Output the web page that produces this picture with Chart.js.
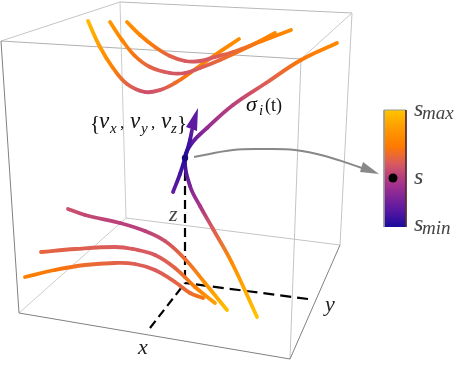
<!DOCTYPE html>
<html>
<head>
<meta charset="utf-8">
<style>html,body{margin:0;padding:0;background:#fff}canvas{display:block}</style>
<script src="https://cdn.jsdelivr.net/npm/chart.js@4"></script>
</head>
<body>
<canvas id="c" width="466" height="372"></canvas>
<script>
// Curves: x, y in picture units, s = colour parameter 0..1
const top1X = [88,100,113,127,145,160,175,190,215,239];
const top1Y = [21,47,68,84,92,90,83,73,55,39];
const top1S = [.97,.84,.72,.58,.5,.53,.62,.7,.74,.78];
const top2X = [110,122,135,150,170,185,200,220,250,275];
const top2Y = [22,40,56,67,73,73,68,60,46,33];
const top2S = [.82,.74,.66,.58,.53,.52,.55,.6,.7,.76];
const top3X = [127,140,155,170,185,200,215,233,262,291];
const top3Y = [22,35,47,56,61,61,57,52,41,30];
const top3S = [.8,.74,.66,.58,.54,.53,.55,.6,.7,.76];
const mainX = [337,301,266,233,207,192,185,190,200,213,232,257];
const mainY = [43,60,83,105,128,143,158,186,206,229,263,317];
const mainS = [.76,.68,.56,.44,.32,.15,.02,.25,.38,.55,.78,1];
const low1X = [68,85,120,145,165,185,205,227];
const low1Y = [209,215,223,231,241,259,283,310];
const low1S = [.5,.47,.44,.44,.5,.62,.8,.98];
const low2X = [41,75,115,133,155,175,195,215];
const low2Y = [252,249,247,249,255,268,287,303];
const low2S = [.59,.57,.55,.54,.54,.58,.72,.86];
const low3X = [25,55,85,115,135,155,175,190,203];
const low3Y = [277,270,265,263,264,270,282,293,298];
const low3S = [.72,.68,.62,.58,.56,.55,.58,.62,.66];
const velX = [173,180,185,190,192];
const velY = [192,174,158,140,130];
const velS = [.17,.1,.02,.1,.18];
const velHeadX = [198,186,197,198];
const velHeadY = [108,127,131,108];
// Bounding box edges: [x0,y0,x1,y1,tone]
const boxEdges = [
  [1,41,120,2,'#c4c4c4'],[120,2,352,13,'#b8b8b8'],[1,41,301,59,'#b0b0b0'],[301,59,352,13,'#c8c8c8'],
  [19,313,126,218,'#cccccc'],[126,218,340,245,'#c4c4c4'],
  [126,218,120,2,'#cccccc'],[301,59,290,359,'#c4c4c4'],[352,13,340,245,'#c4c4c4'],
  [1,41,19,313,'#808080'],[19,313,290,359,'#808080'],[290,359,340,245,'#808080']
];
const barFrame = [
  [384,110,406,110,'#999999'],[384,110,384,227,'#999999'],[406,110,406,227,'#5a2a30']
];
const axisZX = [185,185], axisZY = [158,283];
const axisXX = [150,185], axisXY = [328,283];
const axisYX = [308,185], axisYY = [299,283];
const pointerX = [194,233,264,295,325,362];
const pointerY = [157,150,149,150,156,168];
const pointerHeadX = [379,363,360,379];
const pointerHeadY = [174,162,172,174];
const barX = [395,395], barY = [110,227];
const barDotX = [393], barDotY = [178];
const colorS = [0,.15,.35,.42,.54,.69,.85,1];
const colorHex = ['#1a0a9c','#5a18a2','#a0308f','#b43c80','#d85a60','#ff7a00','#ff9c00','#ffc400'];
const labelText = ['{','v','x',',','v','y',',','v','z','}','σ','i','(t)','z','x','y','s','max','s','s','min'];
const labelX = [90,99,110,120,130,141,151,161,171,177,246,259,265,169,138,325,414,422,414,414,422];
const labelY = [130,128,133,128,128,133,128,128,133,130,111,115,111,221,354,311,116,119,184,231,234];
const labelSize = [21,23,15,17,23,15,17,23,15,21,22,15,18,22,22,22,24,19,24,24,19];
const labelFace = ['n','i','i','n','i','i','n','i','i','n','i','i','n','i','i','i','i','i','i','i','i'];
const labelTone = ['#111','#111','#111','#111','#111','#111','#111','#111','#111','#111','#111','#111','#111','#444','#222','#222','#444','#444','#444','#444','#444'];

const pts = (xs, ys) => xs.map((x, i) => ({x, y: ys[i]}));
const hexRgb = h => [1,3,5].map(i => parseInt(h.slice(i,i+2),16));
function cmap(s){
  s = Math.max(0, Math.min(1, s));
  let i = 0;
  while (i < colorS.length - 2 && s > colorS[i+1]) i++;
  const t = (s - colorS[i]) / (colorS[i+1] - colorS[i]);
  const a = hexRgb(colorHex[i]), b = hexRgb(colorHex[i+1]);
  return 'rgb(' + a.map((v,k) => Math.round(v + (b[k]-v)*t)).join(',') + ')';
}
function curve(xs, ys, ss, width){
  return {
    data: pts(xs, ys), showLine: true, pointRadius: 0, tension: 0.4,
    borderWidth: width, borderCapStyle: 'round', borderJoinStyle: 'round',
    borderColor: cmap(ss[0]),
    segment: {
      borderColor(c){
        const g = c.chart.ctx.createLinearGradient(c.p0.x, c.p0.y, c.p1.x, c.p1.y);
        g.addColorStop(0, cmap(ss[c.p0DataIndex]));
        g.addColorStop(1, cmap(ss[c.p1DataIndex]));
        return g;
      }
    }
  };
}
const plain = (xs, ys, color, width, dash) => ({
  data: pts(xs, ys), showLine: true, pointRadius: 0, tension: 0,
  borderWidth: width, borderColor: color, borderDash: dash || []
});
const head = (xs, ys, color) => ({
  data: pts(xs, ys), showLine: true, pointRadius: 0, tension: 0, borderWidth: 0,
  borderColor: color, backgroundColor: color, fill: 'shape'
});

const layers = [];
boxEdges.forEach(e => layers.push(plain([e[0],e[2]],[e[1],e[3]],e[4],1)));
layers.push(plain(axisZX, axisZY, '#000', 2.2, [9,5]));
layers.push(plain(axisXX, axisXY, '#000', 2.2, [9,5]));
layers.push(plain(axisYX, axisYY, '#000', 2.2, [11,6]));
[[top1X,top1Y,top1S],[top2X,top2Y,top2S],[top3X,top3Y,top3S],
 [low1X,low1Y,low1S],[low2X,low2Y,low2S],[low3X,low3Y,low3S],
 [mainX,mainY,mainS]].forEach(c => layers.push(curve(c[0],c[1],c[2],3.8)));
layers.push(curve(velX, velY, velS, 3.8));
layers.push(head(velHeadX, velHeadY, '#5e1aa0'));
layers.push({data: pts([185],[158]), pointRadius: 3.2, pointBackgroundColor: '#1a0a80', pointBorderWidth: 0, showLine: false});
const ptr = plain(pointerX, pointerY, '#888888', 2);
ptr.tension = 0.4;
layers.push(ptr);
layers.push(head(pointerHeadX, pointerHeadY, '#888888'));
layers.push({
  data: pts(barX, barY), showLine: true, pointRadius: 0, borderWidth: 22, borderCapStyle: 'butt',
  borderColor(c){
    const g = c.chart.ctx.createLinearGradient(0, barY[0], 0, barY[1]);
    colorS.forEach((s,i) => g.addColorStop(1 - s, colorHex[i]));
    return g;
  }
});
barFrame.forEach(e => layers.push(plain([e[0],e[2]],[e[1],e[3]],e[4],1)));
layers.push({data: pts(barDotX, barDotY), pointRadius: 4.5, pointBackgroundColor: '#000', pointBorderWidth: 0, showLine: false});

const textPlugin = {
  id: 'texts',
  afterDatasetsDraw(chart){
    const {ctx, scales} = chart;
    ctx.save();
    ctx.textBaseline = 'alphabetic';
    ctx.textAlign = 'left';
    labelText.forEach((t,i) => {
      ctx.font = (labelFace[i]==='i' ? 'italic ' : '') + labelSize[i] + 'px "Liberation Serif"';
      ctx.fillStyle = labelTone[i];
      ctx.fillText(t, scales.x.getPixelForValue(labelX[i]), scales.y.getPixelForValue(labelY[i]));
    });
    ctx.restore();
  }
};

new Chart(document.getElementById('c'), {
  type: 'scatter',
  data: {datasets: layers.reverse()},
  plugins: [textPlugin],
  options: {
    responsive: false, animation: false, clip: false,
    layout: {padding: 0, autoPadding: false},
    plugins: {legend: {display: false}, tooltip: {enabled: false}},
    scales: {
      x: {type: 'linear', min: 0, max: 466, display: false},
      y: {type: 'linear', min: 0, max: 372, reverse: true, display: false}
    }
  }
});
</script>
</body>
</html>
